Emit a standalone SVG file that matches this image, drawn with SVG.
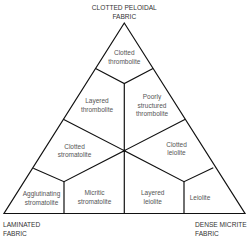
<svg xmlns="http://www.w3.org/2000/svg" width="250" height="241" viewBox="0 0 250 241">
<style>
.ln{stroke:#111;stroke-width:1.2;fill:none;stroke-linejoin:miter}
.t{font-family:"Liberation Sans",Arial,sans-serif;font-size:6.5px;fill:#555;text-anchor:middle}
.c{font-family:"Liberation Sans",Arial,sans-serif;font-size:6.6px;fill:#333}
</style>
<rect width="250" height="241" fill="#fff"/>
<g id="connectors">
<path class="ln" d="M124.3,23 L4,213.5 L245,213.5 Z"/>
<path class="ln" d="M95.6,68.5 L124.3,83.5 L153,68.5"/>
<path class="ln" d="M124.3,83.5 L124.3,213.5"/>
<path class="ln" d="M63.3,119.3 L124.3,150.7 L185.3,119.3"/>
<path class="ln" d="M33.3,168.3 L64,181.7 L124.3,150.7 L184,181.7 L213.3,167.7"/>
<path class="ln" d="M64,181.7 L64,213.5 M184,181.7 L184,213.5"/>
<circle cx="124.3" cy="150.7" r="1.3" fill="#111"/>
</g>
<g id="corner-top"><text class="c" x="124.3" y="9.5" text-anchor="middle">CLOTTED PELOIDAL</text><text class="c" x="124.3" y="18.5" text-anchor="middle">FABRIC</text></g>
<g id="corner-left"><text class="c" x="3" y="226.5">LAMINATED</text><text class="c" x="3" y="235.5">FABRIC</text></g>
<g id="corner-right"><text class="c" x="195" y="226.5">DENSE MICRITE</text><text class="c" x="195" y="235.5">FABRIC</text></g>
<g id="clotted-thrombolite"><text class="t" x="124.3" y="55">Clotted</text><text class="t" x="124.3" y="63.5">thrombolite</text></g>
<g id="layered-thrombolite"><text class="t" x="97" y="103">Layered</text><text class="t" x="97" y="111.5">thrombolite</text></g>
<g id="poorly-structured-thrombolite"><text class="t" x="152" y="99">Poorly</text><text class="t" x="152" y="107.5">structured</text><text class="t" x="152" y="116">thrombolite</text></g>
<g id="clotted-stromatolite"><text class="t" x="74.5" y="148.5">Clotted</text><text class="t" x="74.5" y="157">stromatolite</text></g>
<g id="clotted-leiolite"><text class="t" x="176.5" y="146.5">Clotted</text><text class="t" x="176.5" y="155">leiolite</text></g>
<g id="agglutinating-stromatolite"><text class="t" x="41.5" y="195.5">Agglutinating</text><text class="t" x="41.5" y="204.5">stromatolite</text></g>
<g id="micritic-stromatolite"><text class="t" x="94.5" y="194.5">Micritic</text><text class="t" x="94.5" y="203.5">stromatolite</text></g>
<g id="layered-leiolite"><text class="t" x="152.7" y="194.5">Layered</text><text class="t" x="152.7" y="203.5">leiolite</text></g>
<g id="leiolite"><text class="t" x="200" y="200">Leiolite</text></g>
</svg>
